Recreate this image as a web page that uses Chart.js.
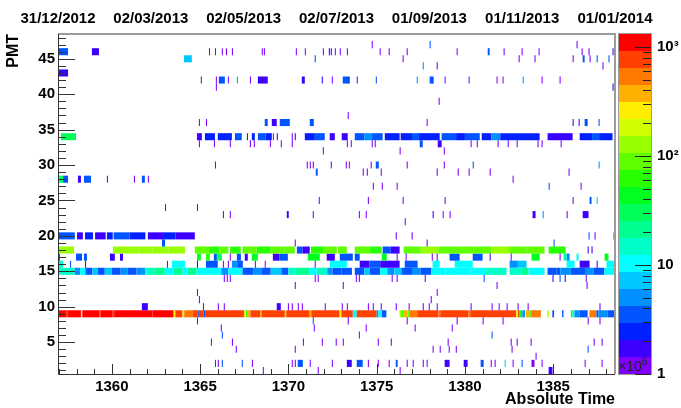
<!DOCTYPE html>
<html>
<head>
<meta charset="utf-8">
<script src="https://cdn.jsdelivr.net/npm/chart.js@4.4.0/dist/chart.umd.min.js"></script>
<style>
  html, body { margin: 0; padding: 0; background: #fff; }
  canvas { display: block; }
</style>
</head>
<body>
<canvas id="pmtMap" width="681" height="408"></canvas>
<script>
// time axis in units of 1e6 s
const timeMin = 1356.95;
const timeMax = 1388.5;
const binWidth = 0.06;
const pmtMin = 0.5;
const pmtMax = 48.5;
const zMax = 1320;

const dateLabels = ['31/12/2012', '02/03/2013', '02/05/2013', '02/07/2013', '01/09/2013', '01/11/2013', '01/01/2014'];

// runs of consecutive bins: [start, end, counts]
const pmt9 = [
  [1356.95, 1357.40, 1100], [1357.40, 1357.52, 650], [1357.52, 1358.25, 1050], [1358.25, 1358.33, 250],
  [1358.33, 1359.30, 1000], [1359.30, 1359.38, 700], [1359.38, 1360.05, 1000], [1360.05, 1360.13, 700],
  [1360.13, 1362.30, 1000], [1362.30, 1363.50, 950], [1363.50, 1363.60, 300], [1363.60, 1364.00, 700],
  [1364.00, 1364.10, 250], [1364.10, 1364.60, 600], [1364.60, 1364.85, 800], [1364.85, 1364.93, 4],
  [1364.93, 1365.20, 900], [1365.20, 1365.28, 3], [1365.28, 1367.50, 750], [1367.50, 1367.60, 250],
  [1367.60, 1367.70, 60], [1367.70, 1367.85, 350], [1367.85, 1368.40, 700], [1368.40, 1368.48, 400],
  [1368.48, 1369.80, 750], [1369.80, 1369.88, 120], [1369.88, 1371.20, 750], [1371.20, 1371.30, 400],
  [1371.30, 1372.90, 750], [1372.90, 1373.00, 300], [1373.00, 1373.65, 800], [1373.65, 1373.87, 10],
  [1373.87, 1375.00, 900], [1375.00, 1375.10, 6], [1375.10, 1375.30, 9], [1375.30, 1375.55, 4],
  [1376.30, 1376.40, 150], [1376.40, 1376.50, 60], [1376.50, 1376.75, 400], [1376.75, 1376.85, 80],
  [1376.85, 1377.30, 450], [1377.30, 1378.50, 750], [1378.50, 1378.60, 500], [1378.60, 1380.20, 750],
  [1380.20, 1380.30, 450], [1380.30, 1382.90, 750], [1382.90, 1383.00, 200], [1383.00, 1383.10, 700],
  [1383.10, 1383.25, 40], [1383.25, 1383.40, 6], [1383.45, 1383.70, 400], [1383.70, 1383.80, 60],
  [1383.80, 1384.30, 500], [1384.65, 1384.75, 200], [1384.95, 1385.05, 3], [1385.50, 1385.58, 3],
  [1386.00, 1386.10, 40], [1386.10, 1386.20, 12], [1386.20, 1386.50, 5], [1386.50, 1386.95, 3],
  [1387.05, 1387.45, 450], [1387.45, 1387.55, 4], [1387.55, 1388.10, 6], [1388.10, 1388.50, 4]
];

const pmt15 = [
  [1356.95, 1357.90, 14], [1357.90, 1358.20, 5], [1358.20, 1358.50, 9], [1358.50, 1358.90, 4],
  [1358.90, 1359.20, 7], [1359.20, 1359.60, 4], [1359.60, 1360.00, 8], [1360.00, 1360.50, 4],
  [1360.50, 1360.90, 6], [1360.90, 1361.40, 3], [1361.40, 1361.90, 5], [1361.90, 1362.40, 15],
  [1362.40, 1363.00, 20], [1363.00, 1363.50, 12], [1363.50, 1364.00, 18], [1364.00, 1364.30, 10],
  [1364.30, 1364.80, 25], [1364.80, 1365.50, 10], [1365.50, 1366.20, 12], [1366.20, 1366.60, 5],
  [1366.60, 1367.40, 9], [1367.40, 1368.00, 4], [1368.00, 1368.50, 6], [1368.50, 1369.00, 4],
  [1369.00, 1369.60, 8], [1369.60, 1370.00, 4], [1370.00, 1370.40, 15], [1370.40, 1371.20, 18],
  [1371.20, 1371.60, 10], [1371.60, 1372.20, 14], [1372.20, 1372.50, 5], [1372.50, 1373.00, 4],
  [1373.00, 1373.60, 3], [1373.76, 1374.30, 4], [1374.30, 1374.60, 7], [1374.60, 1375.20, 3],
  [1375.20, 1375.60, 9], [1375.60, 1376.00, 5], [1376.00, 1376.40, 8], [1376.40, 1377.00, 3],
  [1377.00, 1377.50, 5], [1377.50, 1378.10, 3], [1378.10, 1378.90, 10], [1378.90, 1379.60, 12],
  [1379.60, 1380.30, 9], [1380.30, 1381.20, 11], [1381.20, 1382.36, 13], [1382.53, 1383.20, 14],
  [1383.20, 1383.60, 20], [1383.60, 1384.51, 12], [1384.68, 1385.20, 4], [1385.20, 1385.40, 3],
  [1385.40, 1386.00, 5], [1386.00, 1386.80, 4], [1386.80, 1387.30, 6], [1387.30, 1387.90, 4],
  [1387.90, 1388.50, 11]
];

const pmt16 = [
  [1356.95, 1357.24, 15], [1363.40, 1364.14, 10], [1365.33, 1366.00, 3], [1366.80, 1367.10, 6],
  [1367.10, 1367.42, 4], [1372.34, 1373.31, 9], [1374.04, 1374.60, 2], [1374.60, 1375.20, 3],
  [1375.20, 1376.30, 2], [1376.59, 1377.32, 4], [1378.17, 1378.57, 9], [1379.42, 1380.44, 10],
  [1382.53, 1383.00, 5], [1383.00, 1383.49, 8], [1385.76, 1386.21, 9], [1386.50, 1387.06, 2],
  [1388.02, 1388.50, 10]
];

const pmt17 = [
  [1356.95, 1357.06, 1], [1357.97, 1358.31, 3], [1358.42, 1358.59, 3], [1359.89, 1360.17, 2],
  [1360.46, 1360.63, 2], [1364.82, 1365.04, 40], [1365.33, 1365.55, 60], [1365.78, 1365.95, 3],
  [1365.95, 1366.23, 30], [1367.08, 1367.31, 3], [1367.53, 1367.70, 2], [1367.93, 1368.27, 50],
  [1369.12, 1369.50, 2], [1369.50, 1369.97, 3], [1371.10, 1371.78, 45], [1372.17, 1372.63, 2],
  [1372.91, 1373.65, 3], [1373.76, 1374.04, 4], [1375.29, 1375.57, 50], [1379.13, 1379.70, 3],
  [1380.44, 1381.00, 4], [1383.77, 1384.23, 45], [1385.59, 1385.76, 20], [1385.76, 1385.93, 5],
  [1386.32, 1386.44, 10], [1387.91, 1388.13, 40]
];

const pmt18 = [
  [1356.95, 1357.86, 130], [1360.06, 1360.80, 140], [1360.80, 1361.50, 120], [1361.50, 1362.30, 150],
  [1362.30, 1363.20, 110], [1363.20, 1364.14, 130], [1364.70, 1365.50, 80], [1365.50, 1366.10, 60],
  [1366.10, 1366.60, 90], [1366.70, 1367.30, 70], [1367.40, 1368.20, 85], [1368.20, 1369.00, 65],
  [1369.00, 1369.80, 90], [1369.80, 1370.36, 75], [1370.48, 1370.80, 3], [1370.80, 1371.21, 2],
  [1371.27, 1372.00, 70], [1372.00, 1372.74, 85], [1372.80, 1373.31, 80], [1373.76, 1374.60, 75],
  [1374.60, 1375.29, 60], [1375.34, 1375.80, 3], [1375.80, 1376.30, 2], [1376.53, 1377.50, 90],
  [1377.50, 1378.50, 110], [1378.50, 1379.50, 80], [1379.50, 1380.50, 100], [1380.50, 1381.50, 85],
  [1381.50, 1382.50, 110], [1382.50, 1383.50, 90], [1383.50, 1384.51, 75], [1384.74, 1385.70, 60]
];

const pmt20 = [
  [1356.95, 1357.90, 3], [1358.03, 1358.36, 1.6], [1358.48, 1358.93, 2.5], [1359.05, 1359.65, 2],
  [1359.72, 1360.05, 2.5], [1360.10, 1361.00, 3], [1361.00, 1361.90, 2.5], [1362.04, 1362.90, 2],
  [1362.90, 1363.60, 2.5], [1363.60, 1364.70, 2]
];

const pmt34 = [
  [1357.12, 1357.97, 35], [1364.82, 1365.10, 1.8], [1365.27, 1365.84, 2.5], [1366.00, 1366.80, 2.5],
  [1366.97, 1367.36, 3], [1367.93, 1368.10, 2.5], [1368.27, 1368.70, 3], [1368.70, 1369.06, 2.5],
  [1370.93, 1371.50, 2.5], [1371.50, 1372.06, 3], [1372.34, 1372.63, 1.8], [1373.02, 1373.36, 1.8],
  [1373.76, 1374.30, 3], [1374.30, 1374.70, 5], [1374.70, 1375.34, 3], [1375.46, 1376.30, 2.5],
  [1376.36, 1377.00, 2.5], [1377.00, 1377.40, 4], [1377.40, 1378.57, 2.5], [1378.68, 1379.50, 3],
  [1379.50, 1380.00, 2.5], [1380.00, 1380.84, 3], [1380.95, 1381.50, 2.5], [1381.50, 1382.00, 5],
  [1382.00, 1384.23, 2.5], [1384.68, 1386.10, 1.8], [1386.50, 1387.20, 2.5], [1387.20, 1387.60, 4],
  [1387.60, 1388.36, 2.5]
];

// short runs in the quiet channels: [pmt, start, end, counts]
const blocks = [
  [46, 1356.95, 1357.52, 3], [46, 1358.87, 1359.27, 2], [46, 1381.29, 1381.40, 3],
  [45, 1364.08, 1364.53, 7], [45, 1386.67, 1386.78, 3], [43, 1357.00, 1357.52, 2],
  [42, 1366.06, 1366.40, 3], [42, 1368.27, 1368.83, 2], [42, 1370.76, 1370.93, 2],
  [42, 1373.08, 1373.48, 4], [42, 1378.00, 1378.23, 3],
  [36, 1368.66, 1368.83, 3], [36, 1369.06, 1369.34, 2], [36, 1369.51, 1370.08, 3],
  [36, 1371.21, 1371.44, 3], [36, 1386.78, 1386.95, 3],
  [33, 1377.44, 1377.61, 3], [33, 1378.46, 1378.68, 2], [30, 1374.95, 1375.12, 3],
  [29, 1371.55, 1371.66, 3],
  [28, 1356.95, 1357.24, 30], [28, 1357.24, 1357.52, 3], [28, 1358.08, 1358.25, 2],
  [28, 1358.42, 1358.82, 3], [28, 1361.70, 1361.87, 3],
  [25, 1387.06, 1387.17, 3], [23, 1369.91, 1370.02, 2], [23, 1383.83, 1384.00, 2],
  [23, 1386.67, 1387.00, 2], [19, 1362.84, 1363.01, 3],
  [10, 1361.70, 1362.04, 2], [10, 1369.34, 1369.57, 2],
  [2, 1370.53, 1370.82, 3], [2, 1373.31, 1373.59, 2], [2, 1373.87, 1374.21, 3],
  [2, 1376.08, 1376.19, 3], [2, 1378.85, 1379.13, 2], [2, 1379.93, 1380.15, 2],
  [2, 1380.89, 1381.06, 3], [2, 1383.77, 1383.94, 1], [1, 1384.74, 1384.96, 2]
];

// single bins with more than one count: [pmt, time, counts]
const spikes = [
  [47, 1378.00, 3], [46, 1372.29, 2], [46, 1372.40, 2], [46, 1388.36, 2],
  [45, 1371.49, 4], [45, 1387.46, 3], [45, 1388.13, 3], [44, 1377.61, 5],
  [42, 1367.08, 5], [42, 1371.89, 2], [42, 1374.95, 3], [42, 1377.27, 6], [42, 1383.27, 5],
  [41, 1388.36, 2], [36, 1386.10, 2], [36, 1386.44, 2], [36, 1387.57, 3],
  [34, 1367.65, 2], [34, 1369.34, 2], [34, 1370.36, 2],
  [30, 1380.44, 3], [30, 1387.57, 5], [27, 1384.74, 3], [25, 1387.46, 8],
  [23, 1378.17, 2], [23, 1384.40, 5], [20, 1387.00, 3], [20, 1388.42, 2], [19, 1385.02, 3],
  [18, 1386.95, 2], [18, 1387.17, 2], [17, 1381.40, 2],
  [16, 1357.63, 3], [16, 1358.48, 2], [16, 1364.82, 2], [16, 1387.46, 2],
  [14, 1381.06, 3], [14, 1384.96, 2], [14, 1385.36, 3], [14, 1385.65, 2],
  [8, 1371.38, 4], [6, 1366.23, 3], [6, 1381.51, 3], [4, 1386.95, 3],
  [2, 1366.23, 3], [2, 1367.36, 4], [2, 1382.25, 8], [2, 1383.21, 3]
];

// single bins with one count: [pmt, times]
const singles = [
  [47, [1374.72, 1386.32]],
  [46, [1365.50, 1365.84, 1366.23, 1366.46, 1366.80, 1368.49, 1368.61, 1370.42, 1370.93, 1371.95,
        1372.63, 1372.91, 1373.31, 1375.17, 1375.68, 1376.70, 1379.53, 1382.19, 1383.21, 1384.17,
        1386.61, 1387.00]],
  [45, [1376.47, 1383.04, 1383.94, 1386.10, 1387.06]],
  [44, [1378.40, 1387.79]],
  [42, [1365.04, 1365.89, 1366.57, 1367.82, 1372.46, 1373.87, 1378.85, 1380.21, 1381.79, 1382.13,
        1384.34, 1385.36]],
  [41, [1365.89]],
  [39, [1378.51]],
  [37, [1373.36]],
  [36, [1364.93, 1365.33, 1377.83]],
  [34, [1369.12, 1370.19]],
  [33, [1364.93, 1365.78, 1366.68, 1367.82, 1368.04, 1368.95, 1369.57, 1370.19, 1373.31, 1373.53,
        1374.72, 1374.89, 1380.32, 1380.67, 1381.85, 1382.42, 1382.93, 1384.11, 1384.34, 1385.42]],
  [32, [1371.95, 1376.30, 1378.80]],
  [30, [1365.84, 1371.04, 1371.21, 1371.38, 1372.40, 1373.25, 1373.42, 1374.66, 1376.70, 1378.80]],
  [29, [1374.21, 1374.44, 1375.23, 1378.40, 1379.59, 1380.21, 1381.40, 1385.87]],
  [28, [1359.72, 1361.25, 1362.04, 1382.70]],
  [27, [1374.78, 1375.29, 1376.13, 1386.55]],
  [25, [1371.72, 1374.50, 1376.47, 1378.85, 1386.10]],
  [24, [1363.01, 1364.82]],
  [23, [1366.29, 1366.68, 1371.38, 1373.99, 1374.38, 1378.74, 1379.13, 1385.76]],
  [22, [1376.59]],
  [20, [1376.08, 1376.98, 1387.34]],
  [19, [1370.36, 1377.83]],
  [17, [1366.68, 1376.13, 1376.64, 1378.12, 1378.40, 1382.59, 1385.36]],
  [16, [1363.12, 1366.29, 1366.57, 1368.10, 1368.66, 1371.49]],
  [14, [1366.34, 1366.51, 1366.68, 1371.49, 1371.66, 1373.82, 1373.99, 1375.85, 1376.13, 1377.72,
        1386.84]],
  [13, [1370.36, 1373.08, 1381.79, 1386.89]],
  [12, [1364.82, 1378.40]],
  [11, [1364.93, 1378.06]],
  [10, [1365.16, 1366.00, 1366.34, 1369.97, 1370.19, 1370.53, 1370.76, 1372.06, 1373.02, 1373.31,
        1374.50, 1374.78, 1375.23, 1376.08, 1376.81, 1377.61, 1377.95, 1378.40, 1380.32, 1381.51,
        1381.91, 1382.36, 1382.98, 1383.55, 1387.62]],
  [8, [1364.82, 1373.36, 1376.70, 1379.53, 1381.00, 1382.13, 1386.95, 1387.62]],
  [7, [1366.17, 1371.44, 1374.38, 1377.15, 1379.25]],
  [6, [1373.99]],
  [5, [1365.61, 1366.80, 1370.82, 1371.89, 1372.68, 1373.08, 1375.06, 1375.80, 1379.02, 1382.59,
       1382.93, 1383.72, 1387.29, 1387.74]],
  [4, [1367.02, 1370.36, 1378.17, 1378.57, 1379.08, 1379.48, 1382.64]],
  [3, [1384.00]],
  [2, [1365.84, 1366.00, 1367.93, 1370.19, 1370.36, 1371.21, 1372.46, 1374.50, 1375.06, 1375.68,
       1376.70, 1377.04, 1377.61, 1377.83, 1381.46, 1381.68, 1382.70, 1384.34, 1386.78, 1387.74]],
  [1, [1368.55, 1371.66, 1376.30]]
];

// 20-step rainbow palette, low to high
const palette = [
  '#7f00ff', '#3d00ff', '#0020ff', '#0055ff', '#0090ff', '#00c8ff', '#00ffff', '#00ffc8',
  '#00ff90', '#00ff58', '#00ff20', '#28ff00', '#60ff00', '#98ff00', '#d0ff00', '#ffee00',
  '#ffb000', '#ff7800', '#ff4000', '#ff0000'
];

function zColor(v) {
  const k = Math.floor(Math.log10(v) / Math.log10(zMax) * palette.length);
  return palette[Math.max(0, Math.min(palette.length - 1, k))];
}

const cells = [];
[[9, pmt9], [15, pmt15], [16, pmt16], [17, pmt17], [18, pmt18], [20, pmt20], [34, pmt34]].forEach(([pmt, runs]) => {
  runs.forEach(([a, b, v]) => cells.push({ x: [a, b], y: pmt, v }));
});
blocks.forEach(([pmt, a, b, v]) => cells.push({ x: [a, b], y: pmt, v }));
spikes.forEach(([pmt, t, v]) => cells.push({ x: [t, t + binWidth], y: pmt, v }));
singles.forEach(([pmt, times]) => {
  times.forEach(t => cells.push({ x: [t, t + binWidth], y: pmt, v: 1 }));
});

const superscript = { 100: '10\u00b2', 1000: '10\u00b3' };

// frame, inward tick marks, colour scale
const rootFrame = {
  id: 'rootFrame',
  afterDatasetsDraw(chart) {
    const { ctx, chartArea: a, scales: { x, y } } = chart;
    ctx.save();
    ctx.strokeStyle = '#333';
    ctx.lineWidth = 1;
    ctx.beginPath();
    for (let p = Math.ceil(y.min); p <= Math.floor(y.max); p++) {
      const py = Math.round(y.getPixelForValue(p)) + 0.5;
      ctx.moveTo(a.left, py);
      ctx.lineTo(a.left + (p % 5 === 0 ? 17 : 8), py);
    }
    for (let t = Math.ceil(x.min); t <= Math.floor(x.max); t++) {
      const px = Math.round(x.getPixelForValue(t)) + 0.5;
      ctx.moveTo(px, a.bottom);
      ctx.lineTo(px, a.bottom - (t % 5 === 0 ? 10 : 5));
    }
    ctx.stroke();

    ctx.strokeStyle = '#9c9c9c';
    ctx.lineWidth = 2;
    ctx.beginPath();
    ctx.moveTo(a.left, a.top);
    ctx.lineTo(a.right, a.top);
    ctx.lineTo(a.right, a.bottom);
    ctx.stroke();

    ctx.strokeStyle = '#333';
    ctx.lineWidth = 1;
    ctx.beginPath();
    ctx.moveTo(a.left + 0.5, a.top);
    ctx.lineTo(a.left + 0.5, a.bottom + 0.5);
    ctx.lineTo(a.right, a.bottom + 0.5);
    ctx.stroke();
    ctx.restore();
  },
  afterDraw(chart) {
    const { ctx, chartArea: a } = chart;
    const z = chart.scales.z;
    const x0 = z.left + 4;
    const w = 32;
    const L = Math.log10(zMax);
    ctx.save();
    palette.forEach((c, k) => {
      const top = Math.round(z.getPixelForValue(Math.pow(10, L * (k + 1) / palette.length)));
      const bot = Math.round(z.getPixelForValue(Math.pow(10, L * k / palette.length)));
      ctx.fillStyle = c;
      ctx.fillRect(x0, top, w, bot - top);
    });
    ctx.strokeStyle = '#9c9c9c';
    ctx.lineWidth = 1;
    ctx.strokeRect(x0 - 0.5, a.top - 0.5, w + 1, a.bottom - a.top + 1);

    ctx.strokeStyle = '#222';
    ctx.beginPath();
    z.ticks.forEach(t => {
      const py = Math.round(z.getPixelForValue(t.value)) + 0.5;
      const major = [1, 10, 100, 1000].includes(t.value);
      ctx.moveTo(x0 + w, py);
      ctx.lineTo(x0 + w - (major ? 16 : 8), py);
    });
    ctx.stroke();

    ctx.fillStyle = '#222';
    ctx.textBaseline = 'alphabetic';
    ctx.textAlign = 'left';
    ctx.font = '14px "Liberation Sans"';
    ctx.fillText('\u00d710', a.right + 3, a.bottom - 3);
    const wx = ctx.measureText('\u00d710').width;
    ctx.font = '10px "Liberation Sans"';
    ctx.fillText('6', a.right + 3 + wx, a.bottom - 9);
    ctx.restore();
  }
};

Chart.defaults.font.family = '"Liberation Sans", Arial, sans-serif';
Chart.defaults.font.size = 15;
Chart.defaults.font.weight = 'bold';
Chart.defaults.color = '#000';

const noGrid = { display: false, drawTicks: false };

new Chart(document.getElementById('pmtMap').getContext('2d'), {
  type: 'bar',
  data: {
    datasets: [{
      data: cells,
      backgroundColor: (c) => c.raw ? zColor(c.raw.v) : palette[0],
      borderWidth: 0,
      inflateAmount: 0,
      barPercentage: 1,
      categoryPercentage: 1
    }]
  },
  options: {
    indexAxis: 'y',
    responsive: false,
    animation: false,
    events: [],
    layout: { padding: 0 },
    plugins: { legend: { display: false }, tooltip: { enabled: false } },
    scales: {
      x: {
        type: 'linear',
        position: 'bottom',
        min: timeMin,
        max: timeMax,
        grid: noGrid,
        border: { display: false },
        afterBuildTicks: (s) => {
          const t = [];
          for (let v = Math.ceil(s.min / 5) * 5; v <= s.max; v += 5) t.push({ value: v });
          s.ticks = t;
        },
        ticks: { padding: 4, maxRotation: 0, autoSkip: false, callback: (v) => String(v) },
        title: {
          display: true, text: 'Absolute Time', align: 'end',
          font: { size: 16, weight: 'bold', lineHeight: 1 }, padding: { top: 0, bottom: 0 }
        },
        afterFit: (s) => { s.height = 34; }
      },
      x2: {
        type: 'linear',
        position: 'top',
        min: 0,
        max: dateLabels.length - 1,
        grid: noGrid,
        border: { display: false },
        ticks: { stepSize: 1, padding: 6, maxRotation: 0, autoSkip: false, callback: (v) => dateLabels[v] },
        afterFit: (s) => { s.height = 34; }
      },
      y: {
        type: 'linear',
        position: 'left',
        min: pmtMin,
        max: pmtMax,
        offset: false,
        grid: { display: false, drawTicks: false, offset: false },
        border: { display: false },
        afterBuildTicks: (s) => {
          const t = [];
          for (let v = Math.ceil(s.min / 5) * 5; v <= s.max; v += 5) t.push({ value: v });
          s.ticks = t;
        },
        ticks: { padding: 3, autoSkip: false },
        title: {
          display: true, text: 'PMT', align: 'end',
          font: { size: 16, weight: 'bold', lineHeight: 1.2 }, padding: { top: 4, bottom: 0 }
        },
        afterFit: (s) => { s.width = 58; }
      },
      z: {
        type: 'logarithmic',
        position: 'right',
        min: 1,
        max: zMax,
        // tick marks are drawn by the plugin; the length only pushes labels past the bar
        grid: { display: false, drawTicks: true, tickLength: 39 },
        border: { display: false },
        afterBuildTicks: (s) => {
          const t = [];
          for (let d = 1; d <= 1000; d *= 10) {
            for (let m = 1; m < 10 && m * d <= 1000; m++) t.push({ value: m * d });
          }
          s.ticks = t;
        },
        ticks: {
          padding: 3, autoSkip: false,
          callback: (v) => v === 1 ? '1' : v === 10 ? '10' : (superscript[v] || '')
        },
        afterFit: (s) => { s.width = 66; }
      }
    }
  },
  plugins: [rootFrame]
});
</script>
</body>
</html>
